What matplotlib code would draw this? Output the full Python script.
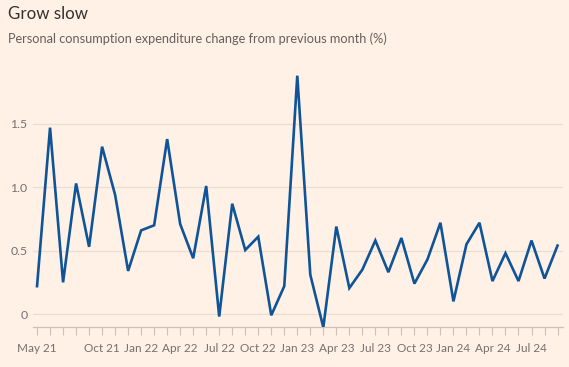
import matplotlib
matplotlib.use("Agg")
import matplotlib.pyplot as plt

months = ["May 21", "Jun 21", "Jul 21", "Aug 21", "Sep 21", "Oct 21", "Nov 21", "Dec 21",
          "Jan 22", "Feb 22", "Mar 22", "Apr 22", "May 22", "Jun 22", "Jul 22", "Aug 22",
          "Sep 22", "Oct 22", "Nov 22", "Dec 22", "Jan 23", "Feb 23", "Mar 23", "Apr 23",
          "May 23", "Jun 23", "Jul 23", "Aug 23", "Sep 23", "Oct 23", "Nov 23", "Dec 23",
          "Jan 24", "Feb 24", "Mar 24", "Apr 24", "May 24", "Jun 24", "Jul 24", "Aug 24",
          "Sep 24"]
values = [0.22, 1.47, 0.25, 1.03, 0.53, 1.32, 0.94, 0.34,
          0.66, 0.70, 1.38, 0.71, 0.44, 1.01, -0.02, 0.87,
          0.505, 0.61, -0.01, 0.22, 1.88, 0.31, -0.105, 0.69,
          0.205, 0.35, 0.58, 0.33, 0.60, 0.24, 0.43, 0.72,
          0.10, 0.55, 0.72, 0.26, 0.48, 0.26, 0.58, 0.28,
          0.54]
labelled = ["May 21", "Oct 21", "Jan 22", "Apr 22", "Jul 22", "Oct 22", "Jan 23",
            "Apr 23", "Jul 23", "Oct 23", "Jan 24", "Apr 24", "Jul 24"]
yticks = [0, 0.5, 1.0, 1.5]
ytick_labels = ["0", "0.5", "1.0", "1.5"]

BG = "#FFF1E5"
plt.rcParams['font.family'] = ['Lato', 'DejaVu Sans']

fig = plt.figure(figsize=(5.69, 3.67), dpi=100, facecolor=BG)
ax = fig.add_axes([0.058, 0.108, 0.931, 0.71], facecolor=BG)

x = list(range(len(values)))
ax.plot(x, values, color="#0F5499", lw=1.9, solid_joinstyle="miter", zorder=3)

ax.set_xlim(-0.31, 40.4)
ax.set_ylim(-0.105, 1.95)

ax.set_yticks(yticks)
ax.set_yticklabels(ytick_labels)
ax.grid(axis="y", color="#EADDD2", lw=0.9)
ax.tick_params(axis="y", length=0, pad=4, labelsize=8.8, labelcolor="#76706C")

ax.set_xticks(x, minor=True)
ax.set_xticks([months.index(m) for m in labelled])
ax.set_xticklabels(labelled)
ax.tick_params(axis="x", which="both", length=6, width=0.8, color="#CCC1B7",
               labelsize=8.5, labelcolor="#76706C", pad=5)

for s in ["top", "right", "left"]:
    ax.spines[s].set_visible(False)
ax.spines["bottom"].set_color("#CCC1B7")
ax.spines["bottom"].set_linewidth(0.9)

fig.text(8/569, 1 - 14/367, "Grow slow", fontsize=12.2, color="#33302E", va="center", ha="left")
fig.text(8/569, 1 - 39/367, "Personal consumption expenditure change from previous month (%)",
         fontsize=9.2, color="#66605C", va="center", ha="left")

fig.savefig("out.png", dpi=100, facecolor=BG)
